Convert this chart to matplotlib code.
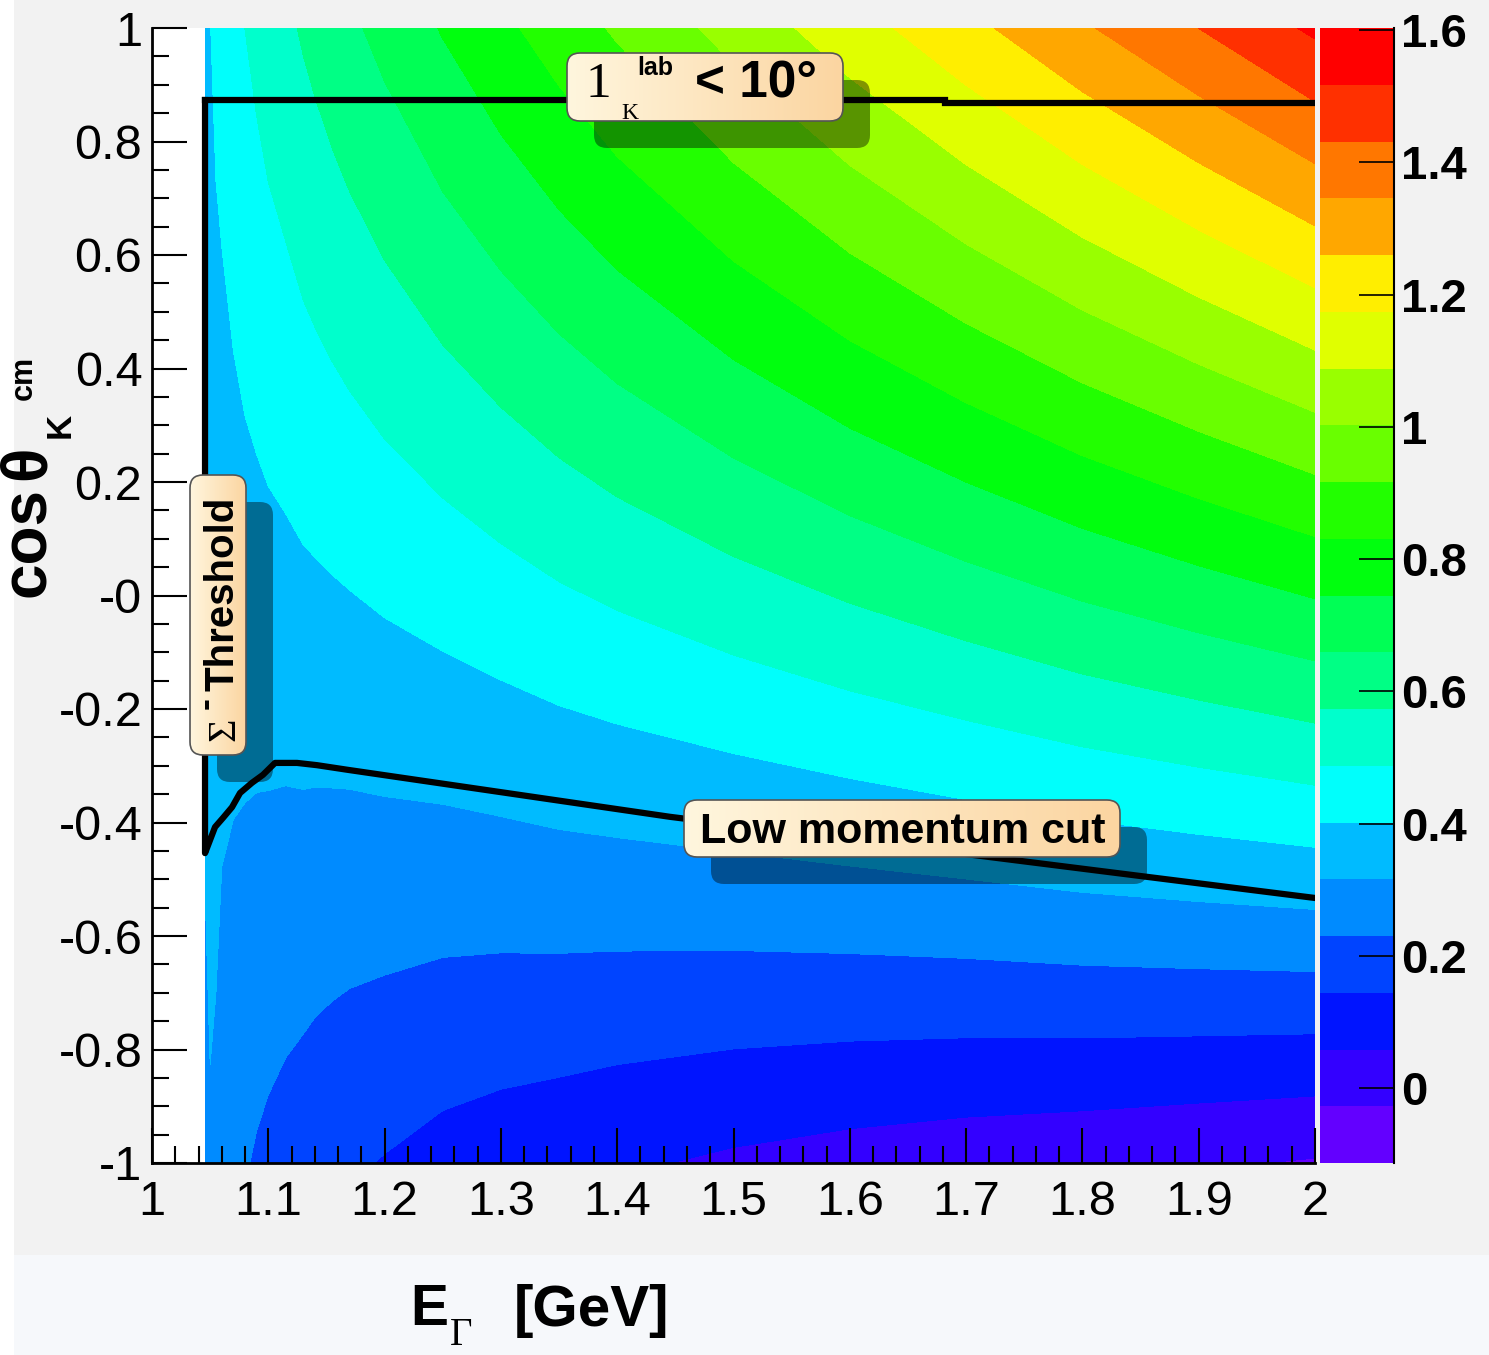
import colorsys
import numpy as np
import matplotlib
matplotlib.use("Agg")
import matplotlib.pyplot as plt
from matplotlib.patches import FancyBboxPatch, Rectangle
from matplotlib.transforms import IdentityTransform
from matplotlib.ticker import MultipleLocator

W, H = 1489, 1355

# photon energy columns and kaon p_z (colour scale) at cos = +1 / -1
e_gamma = [1.046, 1.05, 1.055, 1.06, 1.07, 1.08, 1.09, 1.10, 1.115, 1.13, 1.14, 1.155,
           1.17, 1.20, 1.25, 1.30, 1.35, 1.40, 1.50, 1.60, 1.70, 1.80, 1.90, 2.00]
pz_forward = [0.370, 0.400, 0.418, 0.432, 0.461, 0.488, 0.510, 0.531, 0.555, 0.583, 0.599, 0.622,
              0.644, 0.685, 0.751, 0.812, 0.871, 0.928, 1.034, 1.137, 1.236, 1.335, 1.432, 1.533]
pz_backward = [0.300, 0.308, 0.298, 0.275, 0.253, 0.236, 0.222, 0.211, 0.197, 0.185, 0.176, 0.165,
               0.155, 0.140, 0.115, 0.098, 0.085, 0.070, 0.045, 0.025, 0.009, -0.003, -0.018, -0.034]
cos_edges = [-1.0, 1.0]

# cut lines
lab_e = [1.0456, 1.682, 1.682, 2.0]
lab_cos = [0.873, 0.873, 0.868, 0.868]
lowp_e = [1.0456, 1.0456, 1.0499, 1.0542, 1.0610, 1.0688, 1.0757, 1.0860, 1.0954,
          1.1058, 1.1247, 1.1419, 1.1677, 1.4454, 2.0]
lowp_cos = [0.873, -0.454, -0.431, -0.408, -0.392, -0.373, -0.348, -0.330, -0.316,
            -0.295, -0.295, -0.299, -0.307, -0.390, -0.533]

x_ticks = [1.0, 1.1, 1.2, 1.3, 1.4, 1.5, 1.6, 1.7, 1.8, 1.9, 2.0]
x_labels = ["1", "1.1", "1.2", "1.3", "1.4", "1.5", "1.6", "1.7", "1.8", "1.9", "2"]
y_ticks = [-1.0, -0.8, -0.6, -0.4, -0.2, 0.0, 0.2, 0.4, 0.6, 0.8, 1.0]
y_labels = ["-1", "-0.8", "-0.6", "-0.4", "-0.2", "-0", "0.2", "0.4", "0.6", "0.8", "1"]
z_ticks = [0.0, 0.2, 0.4, 0.6, 0.8, 1.0, 1.2, 1.4, 1.6]
z_labels = ["0", "0.2", "0.4", "0.6", "0.8", "1", "1.2", "1.4", "1.6"]
z_min, z_max, n_bands = -0.113, 1.603, 20

# ROOT "pretty" palette: 50 HLS hues from violet to red, 20 contour bands
band_colors = []
for i in range(n_bands):
    idx = int((i + 0.99) * 50 / n_bands)
    hue = 280 - (idx + 1) * 280 / 50
    band_colors.append(colorsys.hls_to_rgb(hue / 360, 0.5, 1.0))
levels = np.linspace(z_min, z_max, n_bands + 1)

SANS = "Liberation Sans"
SERIF = "Liberation Serif"


def fx(x):
    return x / W


def fy(y):
    return 1 - y / H


fig = plt.figure(figsize=(W / 100, H / 100), dpi=100, facecolor="#f2f2f2")
fig.add_artist(Rectangle((14, 0), W - 14, H - 1255, transform=IdentityTransform(),
                         facecolor="#f6f8fb", edgecolor="none", zorder=-1))
fig.add_artist(Rectangle((0, 0), 14, H, transform=IdentityTransform(),
                         facecolor="white", edgecolor="none", zorder=-1))

ax = fig.add_axes([fx(152), fy(1163), (1315 - 152) / W, (1163 - 28) / H])
ax.set_facecolor("white")
ax.set_xlim(1, 2)
ax.set_ylim(-1, 1)
Z = np.array([pz_backward, pz_forward])
cf = ax.contourf(e_gamma, cos_edges, Z, levels=levels, colors=band_colors)
ax.plot(lab_e, lab_cos, color="black", lw=4.5, solid_joinstyle="miter")
ax.plot(lowp_e, lowp_cos, color="black", lw=4.5, solid_joinstyle="round")

for side in ["top", "right"]:
    ax.spines[side].set_visible(False)
for side in ["left", "bottom"]:
    ax.spines[side].set_linewidth(2)
ax.set_xticks(x_ticks)
ax.set_xticklabels(x_labels)
ax.set_yticks(y_ticks)
ax.set_yticklabels(y_labels)
ax.xaxis.set_minor_locator(MultipleLocator(0.02))
ax.yaxis.set_minor_locator(MultipleLocator(0.05))
ax.tick_params(which="both", direction="in", top=False, right=False, width=1.5)
ax.tick_params(which="major", length=25)
ax.tick_params(which="minor", length=12)
ax.tick_params(axis="x", which="major", pad=12)
ax.tick_params(axis="y", which="major", pad=7)
for lab in ax.get_xticklabels() + ax.get_yticklabels():
    lab.set_fontfamily(SANS)
    lab.set_fontsize(35)

# colour bar
cax = fig.add_axes([fx(1320), fy(1163), (1394 - 1320) / W, (1163 - 28) / H])
cb = fig.colorbar(cf, cax=cax, ticks=z_ticks)
cb.outline.set_visible(False)
cax.plot([1, 1], [0, 1], transform=cax.transAxes, color="black", lw=1.5, clip_on=False)
cax.yaxis.set_ticks_position("right")
cax.set_yticklabels(z_labels)
cax.tick_params(direction="in", length=25, width=1.2, pad=5)
for lab in cax.get_yticklabels():
    lab.set_fontfamily(SANS)
    lab.set_fontweight("bold")
    lab.set_fontsize(34)

# cream-to-peach gradient used inside the label boxes
gradient = np.linspace(0, 1, 256).reshape(1, -1, 1)
cream = np.array([1.0, 0.965, 0.87])
peach = np.array([0.985, 0.835, 0.63])
grad_rgb = cream * (1 - gradient) + peach * gradient
to_data = ax.transData.inverted()


def label_box(x0, y0, x1, y1, dx=27, dy=27):
    shadow = FancyBboxPatch((x0 + dx, H - y1 - dy), x1 - x0, y1 - y0,
                            boxstyle="round,pad=0,rounding_size=13",
                            transform=IdentityTransform(), facecolor="black",
                            edgecolor="none", alpha=0.42, zorder=5)
    ax.add_artist(shadow)
    clip = FancyBboxPatch((x0, H - y1), x1 - x0, y1 - y0,
                          boxstyle="round,pad=0,rounding_size=13",
                          transform=IdentityTransform(), facecolor="none",
                          edgecolor="#555555", lw=1.2, zorder=7)
    (e0, c0), (e1, c1) = to_data.transform([(x0, H - y1), (x1, H - y0)])
    im = ax.imshow(grad_rgb, extent=[e0, e1, c0, c1], aspect="auto",
                   interpolation="bilinear", zorder=6)
    im.set_clip_path(clip)
    ax.add_artist(clip)


label_box(567, 53, 843, 121)
fig.text(fx(585), fy(97), "1", fontfamily=SERIF, fontsize=37, zorder=3)
fig.text(fx(621), fy(119), "K", fontfamily=SERIF, fontsize=17, zorder=3)
fig.text(fx(637), fy(75), "lab", fontfamily=SANS, fontweight="bold", fontsize=18, zorder=3)
fig.text(fx(695), fy(97), "< 10°", fontfamily=SANS, fontweight="bold", fontsize=37, zorder=3)

label_box(190, 475, 246, 755, dy=27)
rot = dict(rotation=90, rotation_mode="anchor", ha="left", va="baseline", zorder=3)
fig.text(fx(234), fy(741), "Σ", fontfamily=SERIF, fontsize=29, **rot)
fig.text(fx(216), fy(709), "-", fontfamily=SANS, fontweight="bold", fontsize=26, **rot)
fig.text(fx(234), fy(691), "Threshold", fontfamily=SANS, fontweight="bold", fontsize=29, **rot)

label_box(684, 800, 1120, 857)
fig.text(fx(700), fy(843), "Low momentum cut", fontfamily=SANS, fontweight="bold",
         fontsize=31, zorder=3)

ax.set_xlim(1, 2)
ax.set_ylim(-1, 1)

# axis titles (ROOT style)
fig.text(fx(45), fy(597), "cos", fontfamily=SANS, fontweight="bold", fontsize=46, **rot)
fig.text(fx(45), fy(480), "θ", fontfamily=SANS, fontweight="bold", fontsize=46, **rot)
fig.text(fx(70), fy(438), "K", fontfamily=SANS, fontweight="bold", fontsize=25, **rot)
fig.text(fx(32), fy(400), "cm", fontfamily=SANS, fontweight="bold", fontsize=22, **rot)

fig.text(fx(410), fy(1325), "E", fontfamily=SANS, fontweight="bold", fontsize=41)
fig.text(fx(450), fy(1345), "Γ", fontfamily=SERIF, fontsize=28)
fig.text(fx(514), fy(1326), "[GeV]", fontfamily=SANS, fontweight="bold", fontsize=42)

fig.savefig("out.png", dpi=100)
